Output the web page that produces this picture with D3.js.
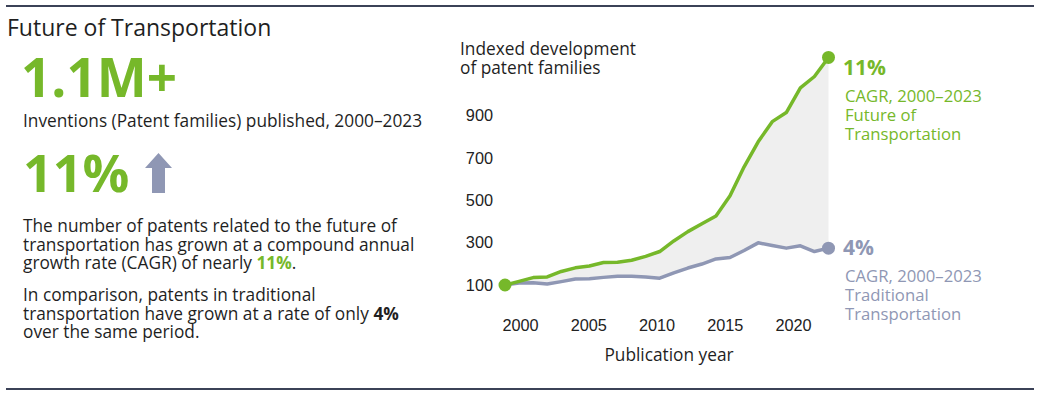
<!DOCTYPE html>
<html lang="en">
<head>
    <meta charset="UTF-8">
    <title>Future of Transportation</title>
    <script src="https://d3js.org/d3.v7.min.js"></script>
    <style>
        body { margin: 0; background: #fff; }
        svg { font-family: "Open Sans", "Noto Sans", sans-serif; display: block; }
        .axis text { font-size: 16.3px; fill: #222; }
        .para { font-size: 17.3px; fill: #1f1f1f; }
    </style>
</head>
<body>
    <svg width="1038" height="395"></svg>
    <script>
        const years = d3.range(2000, 2024);
        const futureIndex = [100, 117, 135, 138, 164, 181, 190, 206, 207, 217, 235, 258,
                             308, 352, 389, 426, 521, 658, 776, 871, 914, 1030, 1084, 1174];
        const traditionalIndex = [100, 109, 111, 105, 116, 128, 129, 136, 141, 141, 138, 132,
                                  157, 180, 199, 223, 230, 263, 299, 286, 274, 285, 258, 274];
        const yTicks = [100, 300, 500, 700, 900];
        const xTicks = [2000, 2005, 2010, 2015, 2020];

        const green = "#76b82a";
        const slate = "#8f97b4";
        const ink = "#1f1f1f";

        const svg = d3.select("svg");

        // rules top and bottom
        svg.append("line").attr("x1", 6).attr("x2", 1034).attr("y1", 6).attr("y2", 6)
           .attr("stroke", "#3b4257").attr("stroke-width", 2);
        svg.append("line").attr("x1", 6).attr("x2", 1034).attr("y1", 389).attr("y2", 389)
           .attr("stroke", "#3b4257").attr("stroke-width", 2);

        // left panel
        svg.append("text").attr("x", 7).attr("y", 36).attr("font-size", 23).attr("fill", ink)
           .text("Future of Transportation");
        svg.append("text").attr("x", 21).attr("y", 97).attr("font-size", 53).attr("font-weight", 700)
           .attr("fill", green).text("1.1M+");
        svg.append("text").attr("x", 23).attr("y", 127).attr("font-size", 17.3).attr("fill", ink)
           .text("Inventions (Patent families) published, 2000\u20132023");
        svg.append("text").attr("x", 23).attr("y", 192).attr("font-size", 52).attr("font-weight", 700)
           .attr("fill", green).text("11%");
        // up arrow
        svg.append("path")
           .attr("d", "M145,168 L158.5,153 L172,168 L165,168 L165,193 L152,193 L152,168 Z")
           .attr("fill", slate);

        const p1 = svg.append("text").attr("class", "para");
        p1.append("tspan").attr("x", 23).attr("y", 232).text("The number of patents related to the future of");
        p1.append("tspan").attr("x", 23).attr("y", 250.5).text("transportation has grown at a compound annual");
        p1.append("tspan").attr("x", 23).attr("y", 269).text("growth rate (CAGR) of nearly ");
        p1.append("tspan").attr("fill", green).attr("font-weight", 700).text("11%");
        p1.append("tspan").text(".");

        const p2 = svg.append("text").attr("class", "para");
        p2.append("tspan").attr("x", 23).attr("y", 301).text("In comparison, patents in traditional");
        p2.append("tspan").attr("x", 23).attr("y", 319.5).text("transportation have grown at a rate of only ");
        p2.append("tspan").attr("font-weight", 700).text("4%");
        p2.append("tspan").attr("x", 23).attr("y", 338).text("over the same period.");

        // chart
        const x = d3.scaleLinear().domain([2000, 2023]).range([505, 828.5]);
        const xTick = d3.scaleLinear().domain([2000, 2020]).range([520, 793]);
        const y = d3.scaleLinear().domain([100, 900]).range([285, 115.5]);

        svg.append("text").attr("font-size", 17.3).attr("fill", ink)
           .selectAll("tspan").data(["Indexed development", "of patent families"]).join("tspan")
           .attr("x", 460).attr("y", (d, i) => 55 + i * 18.5).text(d => d);

        svg.append("g").attr("class", "axis").attr("transform", "translate(495,0)")
           .call(d3.axisLeft(y).tickValues(yTicks).tickSize(0).tickPadding(2))
           .call(g => g.select(".domain").remove())
           .selectAll("text").attr("font-family", null).attr("font-size", null);

        svg.append("g").attr("class", "axis").attr("transform", "translate(0,310)")
           .call(d3.axisBottom(xTick).tickValues(xTicks).tickFormat(d3.format("d")).tickSize(0).tickPadding(9))
           .call(g => g.select(".domain").remove())
           .selectAll("text").attr("font-family", null).attr("font-size", null);

        svg.append("text").attr("x", 669).attr("y", 361).attr("text-anchor", "middle")
           .attr("font-size", 17.3).attr("fill", ink).text("Publication year");

        const rows = years.map((yr, i) => ({ yr, f: futureIndex[i], t: traditionalIndex[i] }));

        svg.append("path").datum(rows)
           .attr("fill", "#efefef")
           .attr("d", d3.area().x(d => x(d.yr)).y0(d => y(d.t)).y1(d => y(d.f)));

        const line = key => d3.line().x(d => x(d.yr)).y(d => y(d[key]));
        svg.append("path").datum(rows).attr("fill", "none").attr("stroke", slate)
           .attr("stroke-width", 3.5).attr("stroke-linejoin", "round").attr("d", line("t"));
        svg.append("path").datum(rows).attr("fill", "none").attr("stroke", green)
           .attr("stroke-width", 3.5).attr("stroke-linejoin", "round").attr("d", line("f"));

        const last = rows[rows.length - 1];
        svg.append("circle").attr("cx", x(last.yr)).attr("cy", y(last.t)).attr("r", 6.5).attr("fill", slate);
        svg.append("circle").attr("cx", x(2000)).attr("cy", y(rows[0].f)).attr("r", 6.5).attr("fill", green);
        svg.append("circle").attr("cx", x(last.yr)).attr("cy", y(last.f)).attr("r", 6.5).attr("fill", green);

        // end labels
        const endLabel = (val, color, yTop, lines) => {
            svg.append("text").attr("x", 843).attr("y", yTop).attr("font-size", 21)
               .attr("font-weight", 700).attr("fill", color).text(val);
            svg.append("text").attr("font-size", 16.7).attr("fill", color)
               .selectAll("tspan").data(lines).join("tspan")
               .attr("x", 845).attr("y", (d, i) => yTop + 26.5 + i * 19.2).text(d => d);
        };
        endLabel("11%", green, 75, ["CAGR, 2000\u20132023", "Future of", "Transportation"]);
        endLabel("4%", slate, 255, ["CAGR, 2000\u20132023", "Traditional", "Transportation"]);
    </script>
</body>
</html>
